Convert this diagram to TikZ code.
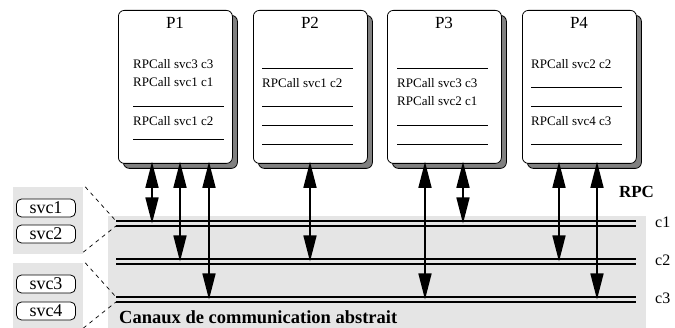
\documentclass[tikz,border=0pt]{standalone}
\usepackage{fontspec}
\setmainfont{Liberation Serif}
\usepackage{xcolor}
\usetikzlibrary{arrows.meta,shadows}

\definecolor{bandgray}{gray}{0.9}
\definecolor{shadowgray}{gray}{0.5}

\newcommand{\titlefont}{\fontsize{17pt}{19pt}\selectfont}
\newcommand{\callfont}{\fontsize{13pt}{15pt}\selectfont}
\newcommand{\svcfont}{\fontsize{18pt}{20pt}\selectfont}
\newcommand{\chfont}{\fontsize{16pt}{18pt}\selectfont}
\newcommand{\boldfont}{\bfseries\fontsize{18.5pt}{20pt}\selectfont}

\tikzset{
  proc/.style={draw, line width=0.8pt, rounded corners=6pt, fill=white,
    anchor=north west, minimum width=114pt, minimum height=153pt,
    drop shadow={shadow xshift=5pt, shadow yshift=-5pt, fill=shadowgray,
      draw=black, opacity=1}},
  ptitle/.style={inner sep=0pt, font=\titlefont},
  call/.style={anchor=west, inner sep=0pt, font=\callfont},
  sep/.style={line width=0.8pt},
  rpc/.style={line width=1.5pt, >={Triangle[length=26pt,width=13pt]}, <->},
  chan/.style={line width=1.5pt},
  svc/.style={draw, line width=0.8pt, rounded corners=5pt, fill=white,
    minimum width=59pt, minimum height=18pt, inner sep=0pt, font=\svcfont},
  group/.style={fill=bandgray, inner sep=0pt, minimum width=70pt},
  link/.style={line width=0.7pt, dash pattern=on 4pt off 4pt},
  chlabel/.style={anchor=west, inner sep=0pt, font=\chfont},
}

\begin{document}
\begin{tikzpicture}[x=1pt, y=-1pt]
    \useasboundingbox (0,0) rectangle (675,328);

    % Band of channels
    \node[fill=bandgray, inner sep=0pt, minimum width=538pt, minimum height=112pt]
      (band) at (377,272) {};

    % Service groups
    \node[group, minimum height=67pt] (g1) at (48,220.5) {};
    \node[group, minimum height=65pt] (g2) at (48,295.5) {};
    \node[svc] (svc1) at (46,208) {svc1};
    \node[svc] (svc2) at (46,234) {svc2};
    \node[svc] (svc3) at (46,284) {svc3};
    \node[svc] (svc4) at (46,311) {svc4};

    % Channels
    \foreach \c/\y in {1/221,2/259,3/297} {
        \coordinate (ch\c) at (0,\y+2.5);
        \coordinate (ch\c a) at (116,\y);
        \coordinate (ch\c b) at (116,\y+5);
        \draw[chan] (ch\c a) -- (636,\y);
        \draw[chan] (ch\c b) -- (636,\y+5);
        \node[chlabel] (lab\c) at (655,\y+1) {c\c};
    }

    % Dashed links
    \draw[link] ([xshift=2pt]g1.north east) -- (ch1a);
    \draw[link] ([yshift=2pt]g1.south east) -- (ch1b);
    \draw[link] ([xshift=2pt]g2.north east) -- (ch3a);
    \draw[link] (g2.south east) -- (ch3b);

    % Processes
    \foreach \name/\x in {P1/118,P2/253,P3/387,P4/522} {
        \node[proc] (\name) at (\x,10) {};
        \node[ptitle] (\name t) at (\x+57,23) {\name};
    }

    % P1
    \node[call] (P1a) at (133,64) {RPCall svc3 c3};
    \node[call] (P1b) at (133,82) {RPCall svc1 c1};
    \node[call] (P1c) at (133,121) {RPCall svc1 c2};
    \foreach \y in {106,139} \draw[sep] (133,\y) -- (224,\y);

    % P2
    \node[call] (P2a) at (262,83) {RPCall svc1 c2};
    \foreach \y in {68,106,125,144} \draw[sep] (262,\y) -- (353,\y);

    % P3
    \node[call] (P3a) at (397,83) {RPCall svc3 c3};
    \node[call] (P3b) at (397,101) {RPCall svc2 c1};
    \foreach \y in {68,125,144} \draw[sep] (397,\y) -- (488,\y);

    % P4
    \node[call] (P4a) at (531,64) {RPCall svc2 c2};
    \node[call] (P4b) at (531,121) {RPCall svc4 c3};
    \foreach \y in {87,106,144} \draw[sep] (531,\y) -- (622,\y);

    % RPC arrows
    \foreach \p/\x/\c in {P1/152/1,P1/180/2,P1/209/3,P2/310/2,P3/425/3,P3/463/1,P4/559/2,P4/597/3} {
        \draw[rpc] ([yshift=2pt]\x,0 |- \p.south) -- (\x,0 |- ch\c);
    }

    % Labels
    \node[font=\bfseries\fontsize{17pt}{19pt}\selectfont, inner sep=0pt] (rpclab) at (636.5,192) {RPC};
    \node[font=\boldfont, anchor=west, inner sep=0pt]
      (canaux) at (119,317) {Canaux de communication abstrait};
\end{tikzpicture}
\end{document}
